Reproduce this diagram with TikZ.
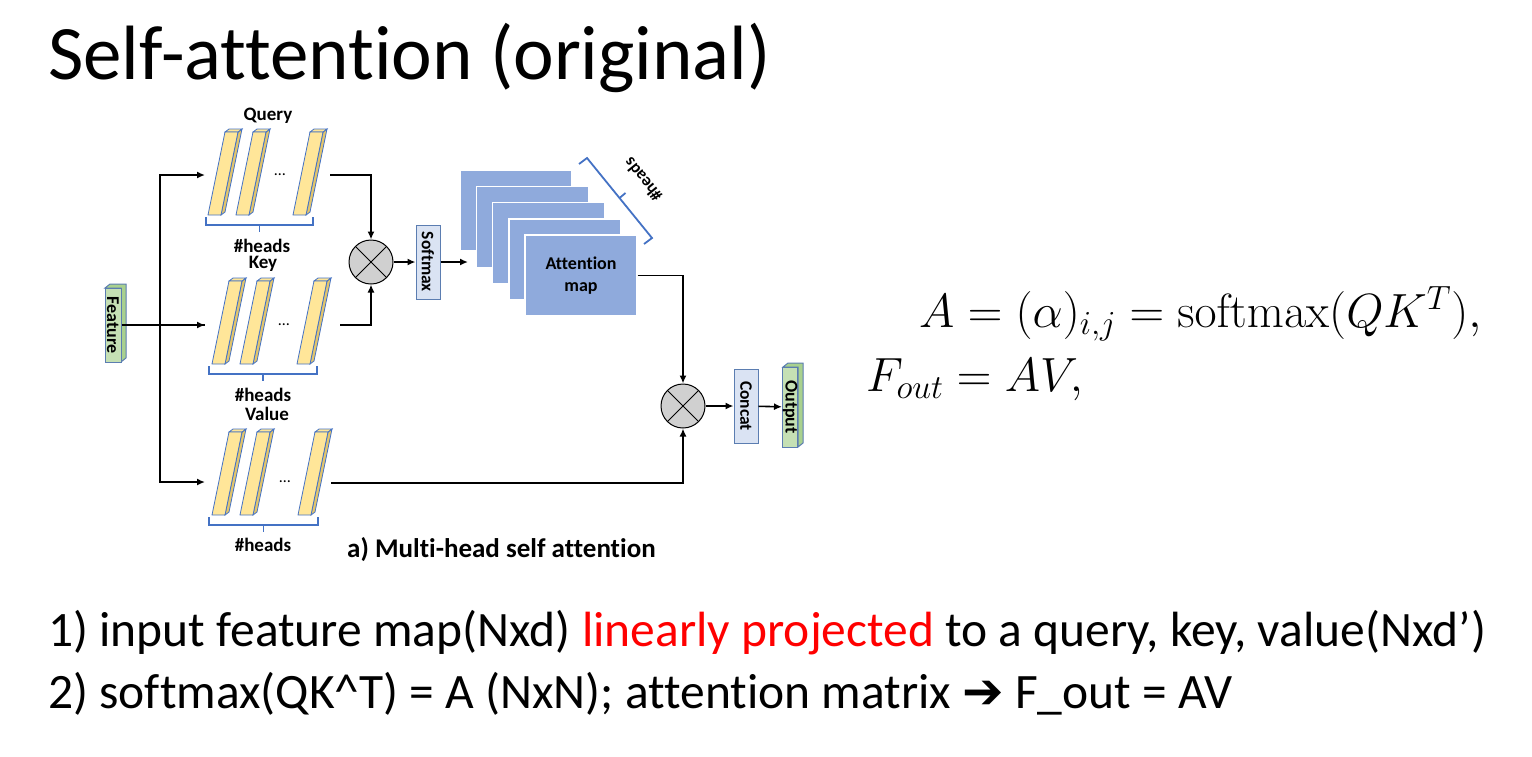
\RequirePackage{fix-cm}
\documentclass[tikz,border=0pt]{standalone}
\usepackage[no-math]{fontspec}
\setmainfont{Carlito}[Ligatures=CommonOff]
\newfontfamily\symfont{DejaVu Sans}
\usepackage{xcolor}
\definecolor{barfill}{HTML}{FFE699}
\definecolor{barside}{HTML}{E3C56B}
\definecolor{barline}{HTML}{4472C4}
\definecolor{mapfill}{HTML}{8FAADC}
\definecolor{boxfill}{HTML}{DAE3F3}
\definecolor{boxline}{HTML}{5B7DB1}
\definecolor{featfill}{HTML}{C5E0B4}
\definecolor{featside}{HTML}{A9D18E}
\definecolor{mulfill}{HTML}{D0D0D0}
\usepackage{tikz}
\usetikzlibrary{positioning, arrows.meta}

\tikzset{
  flow/.style={line width=1.6pt, -{Latex[length=8pt,width=7pt]}},
  wire/.style={line width=1.6pt},
  brace/.style={line width=1.8pt, color=barline},
  lbl/.style={font=\fontsize{19}{21}\selectfont\bfseries, inner sep=0pt},
  opbox/.style={draw=boxline, fill=boxfill, line width=1pt, rotate=-90, minimum width=74pt,
    minimum height=24pt, inner sep=0pt, font=\fontsize{17.5}{20}\selectfont\bfseries},
  featbox/.style={draw=boxline, fill=featfill, line width=1pt, rotate=-90, minimum height=16pt,
    inner sep=0pt, font=\fontsize{18}{20}\selectfont\bfseries},
  mulnode/.style={circle, draw=black, fill=mulfill, line width=1pt, minimum size=44pt, inner sep=0pt,
    path picture={\draw[line width=1pt] (path picture bounding box.north west) -- (path picture bounding box.south east)
      (path picture bounding box.north east) -- (path picture bounding box.south west);}},
  mapbox/.style={draw=white, fill=mapfill, line width=1.2pt, minimum width=112pt, minimum height=81pt,
    align=center, font=\fontsize{18}{22}\selectfont\bfseries}
}

\newcommand{\headbar}[2]{%
  \filldraw[barside, draw=barline, line width=0.8pt] (#1+13,#2) -- ++(4,-3) -- ++(17,-83) -- ++(-4,3) -- cycle;
  \filldraw[barfill, draw=barline, line width=0.8pt] (#1+17,#2-83) -- ++(13,0) -- ++(4,-3) -- ++(-13,0) -- cycle;
  \filldraw[barfill, draw=barline, line width=0.8pt] (#1,#2) -- ++(13,0) -- ++(17,-83) -- ++(-13,0) -- cycle;
}
\newcommand{\headbrace}[3]{%
  \draw[brace] (#1,#3-8) -- (#1,#3) -- (#2,#3) -- (#2,#3-8);
  \draw[brace] ({(#1+#2)/2},#3) -- ++(0,7);
}

\begin{document}
\begin{tikzpicture}[x=1pt, y=-1pt]
  \useasboundingbox (0,0) rectangle (1532,756);

  \node[anchor=base west, inner sep=0pt, font=\fontsize{77}{90}\selectfont] (title) at (48,79) {Self-attention (original)};

  \foreach \x in {208,236,293} { \headbar{\x}{215} }
  \foreach \x in {212,240,297} { \headbar{\x}{364} }
  \foreach \x in {212,240,298} { \headbar{\x}{515} }
  \node[lbl, font=\fontsize{16}{18}\selectfont] (qdots) at (280,175) {\dots};
  \node[lbl, font=\fontsize{16}{18}\selectfont] (kdots) at (284,325) {\dots};
  \node[lbl, font=\fontsize{16}{18}\selectfont] (vdots) at (285,482) {\dots};

  \headbrace{206}{313}{225}
  \headbrace{209}{317}{374}
  \headbrace{209}{318}{525}
  \node[lbl] (qname) at (268,116) {Query};
  \node[lbl] (qheads) at (262,246) {\#heads};
  \node[lbl] (kname) at (263,264) {Key};
  \node[lbl] (kheads) at (263,395) {\#heads};
  \node[lbl] (vname) at (267,414) {Value};
  \node[lbl] (vheads) at (263,545) {\#heads};

  \filldraw[featside, draw=boxline, line width=1pt] (105,288) -- ++(5,-4) -- ++(16,0) -- ++(0,74) -- ++(-5,4) -- ++(0,-74) -- cycle;
  \node[featbox, minimum width=74pt] (feat) at (113,325) {Feature};
  \filldraw[featside, draw=boxline, line width=1pt] (783,367) -- ++(5,-4) -- ++(15,0) -- ++(0,80) -- ++(-5,4) -- ++(0,-80) -- cycle;
  \node[featbox, minimum width=80pt, minimum height=15pt] (out) at (790,407) {Output};

  \coordinate (fork) at (160,325);
  \coordinate (qin) at (205,175);
  \coordinate (kin) at (205,325);
  \coordinate (vin) at (205,482);
  \coordinate (qout) at (330,175);
  \coordinate (kout) at (340,325);
  \coordinate (vout) at (331,483);
  \coordinate (mapin) at (468,262);

  \node[mulnode] (mul1) at (371,262) {};
  \node[opbox] (soft) at (428,262) {Softmax};
  \foreach \i in {0,...,3} {
    \filldraw[mapfill, draw=white, line width=1.2pt] (460+16.3*\i,170+16.3*\i) rectangle ++(112,81);
  }
  \node[mapbox] (attn) at (581,275.5) {Attention\\map};
  \node[mulnode] (mul2) at (683,406) {};
  \node[opbox] (concat) at (746,406) {Concat};

  \draw[brace] (579,164) -- (587,158) -- (652,238) -- (644,244);
  \draw[brace] (619.5,198) -- ++(6,-5);
  \node[lbl, rotate=129, font=\fontsize{17}{19}\selectfont\bfseries] (mheads) at (643,180) {\#heads};

  \draw[wire] (feat.north |- kin) -- (kin);
  \draw[flow] (fork) -- (kin);
  \draw[flow] (fork) |- (qin);
  \draw[flow] (fork) |- (vin);
  \draw[flow] (qout) -| (mul1.north);
  \draw[flow] (kout) -| (mul1.south);
  \draw[flow] (mul1) -- (soft);
  \draw[flow] (soft) -- (mapin);
  \draw[flow] (attn.east) -| (mul2.north);
  \draw[flow] (vout) -| (mul2.south);
  \draw[flow] (mul2) -- (concat);
  \draw[flow] (concat) -- (out);

  \node[anchor=base west, inner sep=0pt, font=\fontsize{27}{32}\selectfont\bfseries] (caption) at (347,557) {a) Multi-head self attention};

  \node[anchor=base west, inner sep=0pt, font=\fontsize{48}{56}\selectfont] (eqa) at (919,327)
    {$A = (\alpha)_{i,j} = \mathrm{softmax}(QK^T),$};
  \node[anchor=base west, inner sep=0pt, font=\fontsize{48}{56}\selectfont] (eqf) at (866,391)
    {$F_{out} = AV,$};

  \node[anchor=base west, inner sep=0pt, font=\fontsize{49.5}{58}\selectfont] (line1) at (48,646)
    {1) input feature map(Nxd) \textcolor{red}{linearly projected} to a query, key, value(Nxd’)};
  \node[anchor=base west, inner sep=0pt, font=\fontsize{49.5}{58}\selectfont] (line2) at (48,708)
    {2) softmax(QK\textasciicircum T) = A (NxN); attention matrix {\symfont\bfseries ➔} F\_out = AV};
\end{tikzpicture}
\end{document}
